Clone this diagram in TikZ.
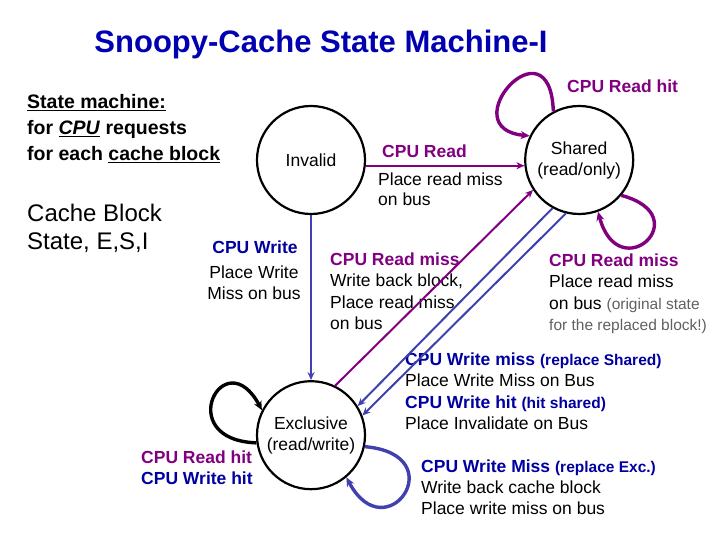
\documentclass[tikz,border=0pt]{standalone}
\usepackage{fontspec}
\setmainfont{Liberation Sans}
\usepackage{tikz}
\usetikzlibrary{arrows.meta, positioning}
\usepackage{xcolor}
\definecolor{purp}{RGB}{128,0,128}
\definecolor{navy}{RGB}{0,0,160}
\definecolor{wireblue}{RGB}{64,64,176}
\definecolor{titleblue}{RGB}{0,0,176}
\definecolor{greytxt}{RGB}{96,96,96}

\begin{document}
\begin{tikzpicture}[
    x=1pt, y=1pt,
    state/.style={circle, draw=black, line width=2.2pt, minimum size=108pt, inner sep=0pt, align=center, font=\fontsize{17.5}{21}\selectfont},
    lbl/.style={anchor=base west, align=left, inner sep=0pt, font=\fontsize{17.5}{21.5}\selectfont},
    arrow/.style={-{Stealth[length=8pt, width=7pt]}, line width=2pt},
    selfloop/.style={-{Stealth[length=9pt, width=8pt]}, line width=3.4pt}
]
\useasboundingbox (0,0) rectangle (720,540);

\node[anchor=base, text=titleblue, font=\bfseries\fontsize{31}{36}\selectfont] (title) at (321,487) {Snoopy-Cache State Machine-I};

% the three states
\node[state] (invalid) at (311,380) {Invalid};
\node[state, right=158pt of invalid] (shared) {Shared\\(read/only)};
\node[state, below=165pt of invalid] (exclusive) {Exclusive\\(read/write)};

% notes on the left (base = last line)
\node[lbl, font=\bfseries\fontsize{19.5}{26}\selectfont] (intro) at (27,379) {\underline{State machine:}\\for \underline{\textit{CPU}} requests\\for each \underline{cache block}};
\node[lbl, font=\fontsize{24}{28}\selectfont] (esi) at (27,290) {Cache Block\\State, E,S,I};

% transition labels
\node[lbl, text=purp, font=\bfseries\fontsize{17.5}{21.5}\selectfont] (readlbl) at (382,382) {CPU Read};
\node[lbl, font=\fontsize{17.5}{20.5}\selectfont] (readact) at (378,334) {Place read miss\\on bus};
\node[lbl, text=purp, font=\bfseries\fontsize{17.5}{21.5}\selectfont] (sharedhit) at (567,447) {CPU Read hit};
\node[lbl] (sharedmiss) at (549,209) {\textcolor{purp}{\bfseries CPU Read miss}\\Place read miss\\on bus {\color{greytxt}\fontsize{15.5}{21.5}\selectfont(original state}\\{\color{greytxt}\fontsize{15.5}{21.5}\selectfont for the replaced block!)}};
\node[anchor=base, inner sep=0pt, text=navy, font=\bfseries\fontsize{17.5}{21.5}\selectfont] (writelbl) at (255,286) {CPU Write};
\node[anchor=base, inner sep=0pt, align=center, font=\fontsize{17.5}{21}\selectfont] (writeact) at (254,240) {Place Write\\Miss on bus};
\node[lbl] (excmiss) at (330,210) {\textcolor{purp}{\bfseries CPU Read miss}\\Write back block,\\Place read miss\\on bus};
\node[lbl] (sharedwrite) at (405,110) {\textcolor{navy}{\bfseries CPU Write miss {\fontsize{15.5}{21.5}\selectfont(replace Shared)}}\\Place Write Miss on Bus\\\textcolor{navy}{\bfseries CPU Write hit {\fontsize{15.5}{21.5}\selectfont(hit shared)}}\\Place Invalidate on Bus};
\node[lbl, font=\fontsize{17.5}{21}\selectfont] (excwrite) at (421,25) {\textcolor{navy}{\bfseries CPU Write Miss {\fontsize{15.5}{21}\selectfont(replace Exc.)}}\\Write back cache block\\Place write miss on bus};
\node[lbl, font=\bfseries\fontsize{17.5}{21}\selectfont] (exchit) at (141,55) {\textcolor{purp}{CPU Read hit}\\\textcolor{navy}{CPU Write hit}};

% transitions
\draw[arrow, purp] (invalid.-6) -- (shared.186);
\draw[arrow, wireblue] (invalid.south) -- (exclusive.north);
\draw[arrow, purp] (exclusive.64) -- (shared.213);
\draw[arrow, wireblue] (shared.241) -- (exclusive.32);
\draw[arrow, wireblue] (shared.256) -- (exclusive.21);

% self loops
\draw[selfloop, purp] (shared.118) .. controls +(92:95) and +(175:80) .. (shared.154);
\draw[selfloop, purp] (shared.-40) .. controls +(-15:80) and +(-75:80) .. (shared.-70);
\draw[selfloop, black] (exclusive.188) .. controls +(178:85) and +(118:80) .. (exclusive.153);
\draw[selfloop, wireblue] (exclusive.-12) .. controls +(-5:90) and +(-62:85) .. (exclusive.-50);
\end{tikzpicture}
\end{document}
